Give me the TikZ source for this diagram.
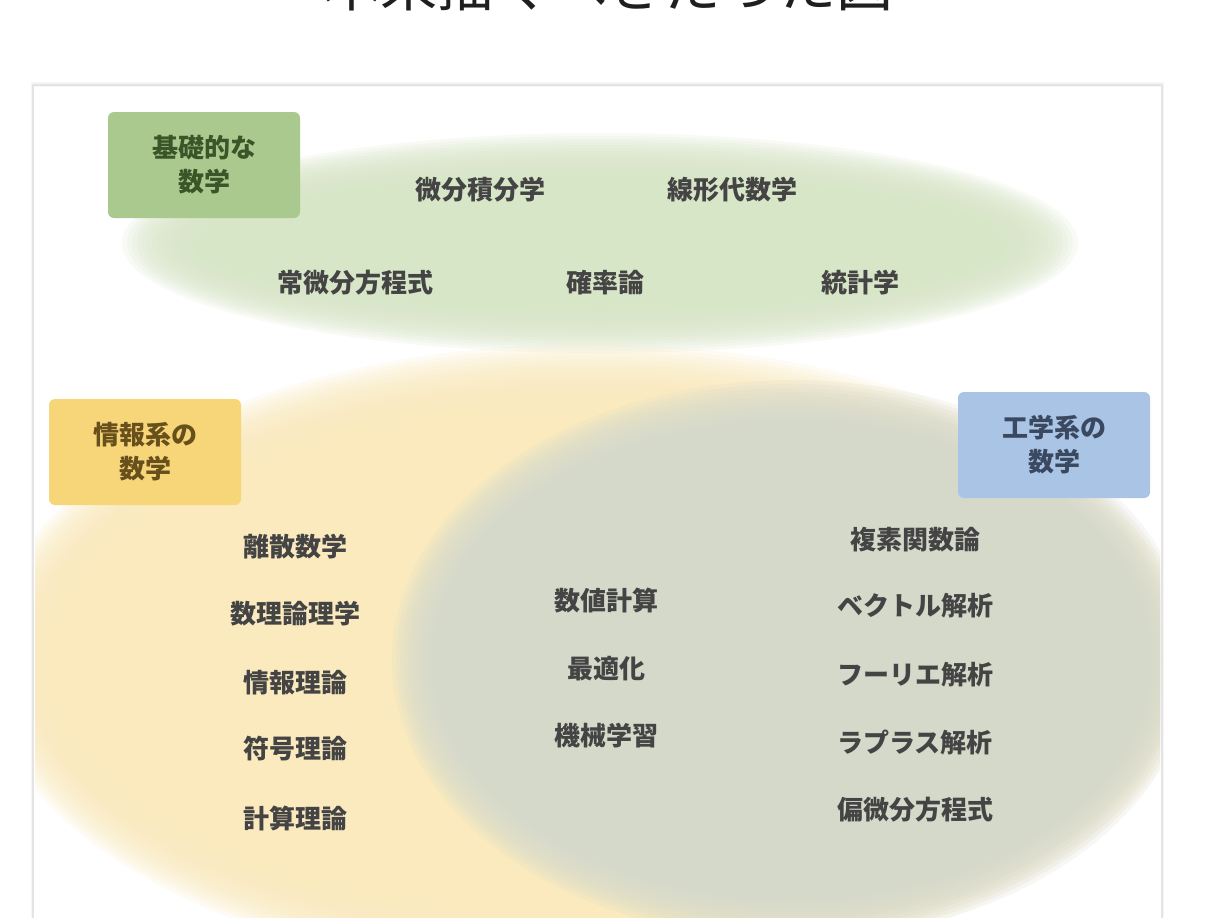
\documentclass[tikz,border=0pt]{standalone}
\usepackage{fontspec}
\newfontfamily\jpfont{Noto Sans CJK JP}
\definecolor{greenbg}{RGB}{216,230,200}
\definecolor{yellowbg}{RGB}{250,234,190}
\definecolor{graybg}{RGB}{212,217,207}
\definecolor{greenbox}{RGB}{169,201,143}
\definecolor{yellowbox}{RGB}{247,214,122}
\definecolor{bluebox}{RGB}{170,196,230}
\definecolor{greentxt}{RGB}{58,86,40}
\definecolor{yellowtxt}{RGB}{104,80,28}
\definecolor{bluetxt}{RGB}{58,72,96}
\definecolor{itemtxt}{RGB}{68,68,68}
\definecolor{panelline}{RGB}{228,228,228}
\begin{document}
\begin{tikzpicture}[x=1pt,y=-1pt,line join=round,
  layer/.style={fill opacity=0.17},
  catbox/.style={rounded corners=6pt,minimum width=192pt,minimum height=106pt,align=center,
    font=\jpfont\bfseries\fontsize{26}{34}\selectfont},
  item/.style={text=itemtxt,font=\jpfont\bfseries\fontsize{26}{30}\selectfont}]
  \useasboundingbox (0,0) rectangle (1218,918);
  \clip (0,0) rectangle (1218,918);
  \fill[white] (0,0) rectangle (1218,918);
  % title, cut off at the top
  \node[anchor=base,text={black!88},font=\jpfont\fontsize{57}{60}\selectfont] (title) at (608,6) {本来描くべきだった図};
  % panel
  \fill[black!4] (31,82) rectangle (1164,930);
  \fill[white] (34,87) rectangle (1161,930);
  \draw[panelline,line width=1.5pt] (33,85) rectangle (1162,930);
  % soft blobs: stacked ellipses
  \begin{scope}
    \clip (35,88) rectangle (1160,930);
    \foreach \k in {0,...,19}
      \fill[greenbg,layer] (600,243) ellipse ({478-5*\k} and {110-3*\k});
    \foreach \k in {0,...,19}
      \fill[yellowbg,layer] (590,662) ellipse ({605-4*\k} and {318-4*\k});
    \foreach \k in {0,...,19}
      \fill[graybg,layer] (792,660) ellipse ({400-4*\k} and {280-4*\k});
  \end{scope}
  % category boxes
  \node[catbox,fill=greenbox,text=greentxt] (basic) at (204,165) {基礎的な\\数学};
  \node[catbox,fill=yellowbox,text=yellowtxt] (info) at (145,452) {情報系の\\数学};
  \node[catbox,fill=bluebox,text=bluetxt] (eng) at (1054,445) {工学系の\\数学};
  % basic mathematics
  \node[item] (calc) at (480,190) {微分積分学};
  \node[item] (linalg) at (732,190) {線形代数学};
  \node[item] (ode) at (355,283) {常微分方程式};
  \node[item] (prob) at (605,283) {確率論};
  \node[item] (stat) at (860,283) {統計学};
  % information
  \node[item] (discrete) at (295,547) {離散数学};
  \node[item] (logic) at (295,614) {数理論理学};
  \node[item] (infotheory) at (295,683) {情報理論};
  \node[item] (coding) at (295,749) {符号理論};
  \node[item] (computation) at (295,818) {計算理論};
  % shared
  \node[item] (numeric) at (606,601) {数値計算};
  \node[item] (optim) at (606,669) {最適化};
  \node[item] (ml) at (606,736) {機械学習};
  % engineering
  \node[item] (complex) at (915,540) {複素関数論};
  \node[item] (vector) at (915,606) {ベクトル解析};
  \node[item] (fourier) at (915,675) {フーリエ解析};
  \node[item] (laplace) at (915,742) {ラプラス解析};
  \node[item] (pde) at (915,810) {偏微分方程式};
\end{tikzpicture}
\end{document}
